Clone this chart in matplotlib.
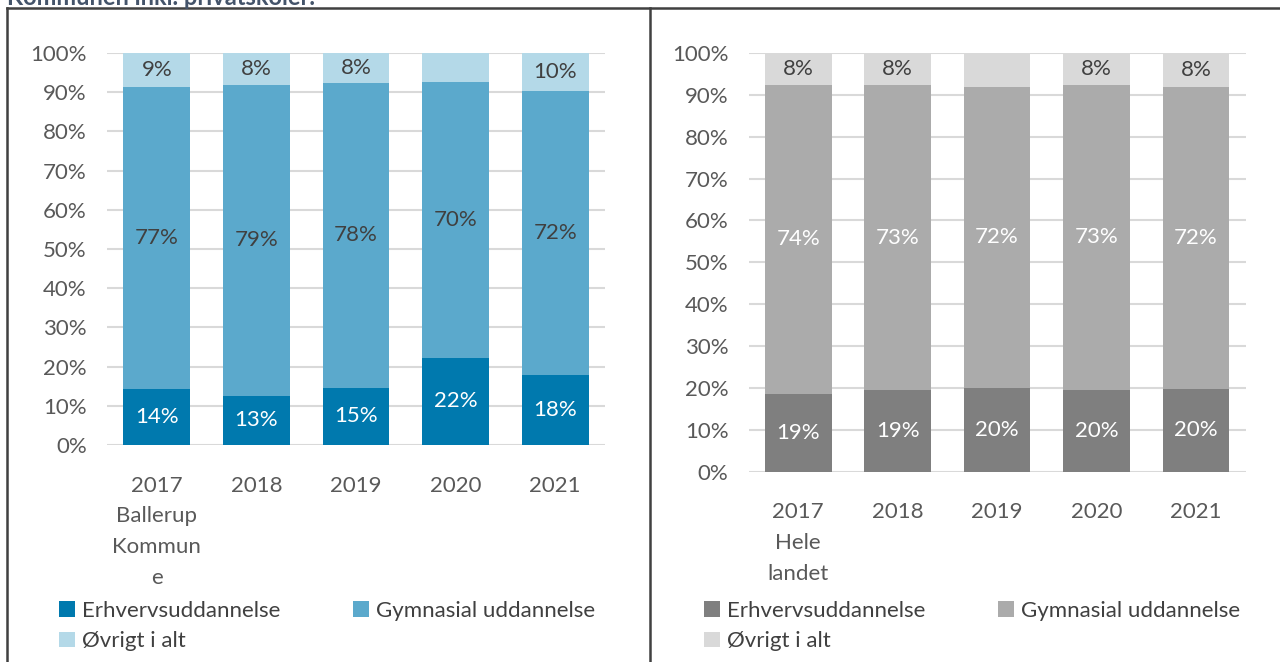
import numpy as np
import matplotlib.pyplot as plt
from matplotlib.lines import Line2D

plt.rcParams['font.family'] = ['Lato', 'DejaVu Sans']

# ─── Data ────────────────────────────────────────────────────────────────────

years = ['2017', '2018', '2019', '2020', '2021']
series = ['Erhvervsuddannelse', 'Gymnasial uddannelse', 'Øvrigt i alt']

# Ballerup Kommune (procent)
ballerup_erhverv = [14.4, 12.6, 14.6, 22.2, 17.8]
ballerup_gym     = [76.9, 79.2, 77.7, 70.4, 72.4]
ballerup_ovrigt  = [8.7, 8.2, 7.7, 7.4, 9.8]
ballerup_ovrigt_vis = [True, True, True, False, True]

# Hele landet (procent)
landet_erhverv = [18.6, 19.4, 20.1, 19.6, 19.8]
landet_gym     = [73.8, 73.0, 71.8, 72.8, 72.1]
landet_ovrigt  = [7.6, 7.6, 8.1, 7.6, 8.1]
landet_ovrigt_vis = [True, True, False, True, True]

BLUE = ['#0079AE', '#5BA9CC', '#B4D9E8']
GREY = ['#7F7F7F', '#ABABAB', '#D9D9D9']
TXT = '#595959'
DARK = '#404040'
FS = 16

W, H = 1280, 662


def fx(px):
    return px / W


def fy(px):
    return 1 - px / H


def draw_panel(fig, rect, first_label, erh, gym, ovr, ovr_vis, colors, gym_txt):
    ax = fig.add_axes(rect)
    x = np.arange(len(years))
    b1 = ax.bar(x, erh, 0.67, color=colors[0], label=series[0], zorder=3)
    b2 = ax.bar(x, gym, 0.67, bottom=erh, color=colors[1], label=series[1], zorder=3)
    bottom2 = np.array(erh) + np.array(gym)
    b3 = ax.bar(x, ovr, 0.67, bottom=bottom2, color=colors[2], label=series[2], zorder=3)

    ax.bar_label(b1, labels=[f'{v:.0f}%' for v in erh], label_type='center',
                 color='white', fontsize=FS)
    ax.bar_label(b2, labels=[f'{v:.0f}%' for v in gym], label_type='center',
                 color=gym_txt, fontsize=FS)
    ax.bar_label(b3, labels=[f'{v:.0f}%' if s else '' for v, s in zip(ovr, ovr_vis)],
                 label_type='center', color=DARK, fontsize=FS)

    ax.set_xlim(-0.5, len(years) - 0.5)
    ax.set_ylim(0, 100)
    ax.set_yticks(np.arange(0, 101, 10))
    ax.set_yticklabels([f'{t}%' for t in range(0, 101, 10)])
    xlabels = list(years)
    xlabels[0] = first_label
    ax.set_xticks(x)
    ax.set_xticklabels(xlabels, linespacing=1.68, va='top')
    ax.tick_params(axis='both', length=0, labelsize=FS, colors=TXT)
    ax.tick_params(axis='y', pad=14.5)
    ax.tick_params(axis='x', pad=22)
    ax.grid(axis='y', color='#D9D9D9', linewidth=1.5, zorder=0)
    for s in ax.spines.values():
        s.set_visible(False)

    h = [b1, b3, b2]
    lab = [series[0], series[2], series[1]]
    return ax, h, lab


fig = plt.figure(figsize=(W / 100, H / 100), dpi=100)

axl, hl, ll = draw_panel(fig, [fx(107), 1 - 445 / H, fx(498), 392 / H],
                         '2017\nBallerup\nKommun\ne',
                         ballerup_erhverv, ballerup_gym, ballerup_ovrigt,
                         ballerup_ovrigt_vis, BLUE, DARK)
axr, hr, lr = draw_panel(fig, [fx(748.6), 1 - 471.7 / H, fx(497), 418.7 / H],
                         '2017\nHele\nlandet',
                         landet_erhverv, landet_gym, landet_ovrigt,
                         landet_ovrigt_vis, GREY, 'white')

for h, lab, x0 in [(hl, ll, 59), (hr, lr, 704)]:
    fig.legend(h, lab, loc='upper left', bbox_to_anchor=(fx(x0), fy(601)),
               ncol=2, frameon=False, fontsize=FS, labelcolor=DARK,
               handlelength=0.72, handleheight=0.72, handletextpad=0.32,
               columnspacing=3.25, labelspacing=0.46, borderpad=0, borderaxespad=0)

# rammer
for x0, y0, x1, y1 in [(7, 8, 1280, 8), (7, 8, 7, 662), (650, 8, 650, 662)]:
    fig.add_artist(Line2D([fx(x0), fx(x1)], [fy(y0), fy(y1)], color=DARK, linewidth=1.8))

# overskrift, afskåret i toppen som i originalen
fig.text(fx(7), fy(5), 'Kommunen inkl. privatskoler.', fontsize=17, fontweight='bold',
         color='#44546A', va='baseline', ha='left')

fig.savefig('out.png', dpi=100)
